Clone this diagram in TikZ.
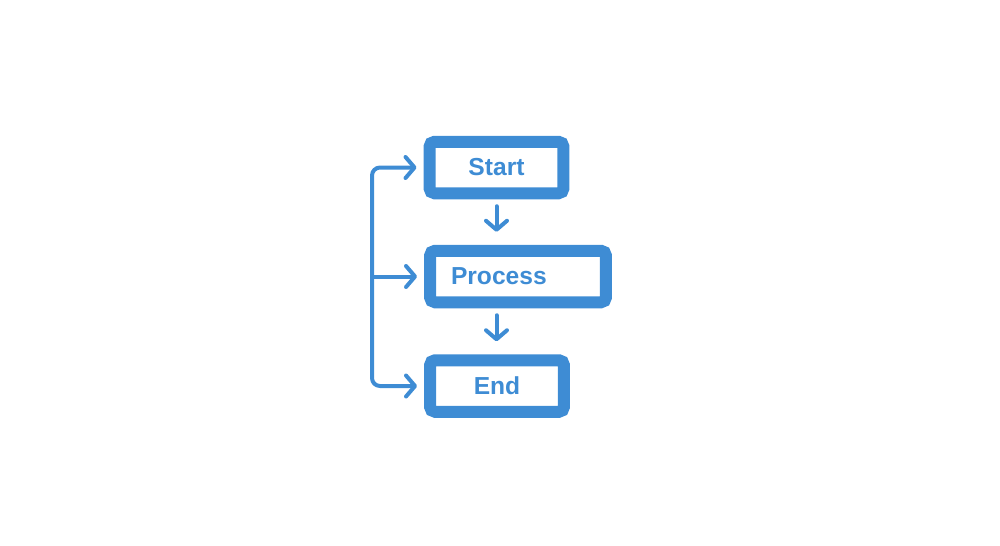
\documentclass[tikz,border=0pt]{standalone}
\usepackage{fontspec}
\setmainfont{Liberation Sans}
\usetikzlibrary{arrows.meta,calc}
\definecolor{flowblue}{RGB}{62,140,212}

\begin{document}
\begin{tikzpicture}[x=0.02cm,y=-0.02cm,
	stepbox/.style={draw=flowblue, line width=0.24cm, rounded corners=0.1cm,
		minimum width=2.68cm, minimum height=1.03cm, inner sep=0pt,
		text=flowblue, font=\fontsize{14}{16}\selectfont\bfseries},
	flow/.style={draw=flowblue, line width=0.08cm, line cap=round, line join=round,
		-{Straight Barb[length=0.18cm,width=0.42cm,round]}}]
		\useasboundingbox (0,0) rectangle (1000,545);
		
		\node[stepbox] (start) at (496.5,167.5) {Start};
		\node[stepbox, minimum width=3.52cm, text width=2.68cm, inner xsep=0.42cm, align=left] (process) at (518,276.5) {Process};
		\node[stepbox] (end) at (497,386) {End};
		
		\coordinate (rail) at (372,276.5);
		
		\draw[flow, shorten <=0.14cm, shorten >=0.26cm] (start.south) -- (start.south |- process.north);
		\draw[flow, shorten <=0.14cm, shorten >=0.26cm] (start.south |- process.south) -- (start.south |- end.north);
		
		\draw[flow, rounded corners=0.16cm, shorten >=0.14cm] (rail) |- (start.west);
		\draw[flow, shorten >=0.14cm] (rail) -- (process.west);
		\draw[flow, rounded corners=0.16cm, shorten >=0.14cm] (rail) |- (end.west);
		\end{tikzpicture}
\end{document}
